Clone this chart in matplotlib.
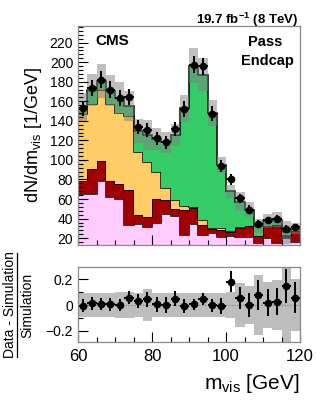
import numpy as np
import matplotlib
matplotlib.use('Agg')
import matplotlib.pyplot as plt
from matplotlib.ticker import MultipleLocator

plt.rcParams['font.family'] = ['Liberation Sans', 'DejaVu Sans']
plt.rcParams['mathtext.default'] = 'regular'

# bins of m_vis, 2.5 GeV wide
bin_edges = [60.0, 62.5, 65.0, 67.5, 70.0, 72.5, 75.0, 77.5, 80.0, 82.5, 85.0, 87.5,
             90.0, 92.5, 95.0, 97.5, 100.0, 102.5, 105.0, 107.5, 110.0, 112.5, 115.0, 117.5, 120.0]

# observed events per GeV
data = [152.7, 173.4, 182, 172, 163, 164, 134, 131, 122, 118, 132, 152,
        197.5, 195.8, 147.5, 94, 80.3, 60.6, 49.3, 34.8, 38.2, 40, 29.6, 31.4]
data_err = [7.8, 8.3, 8.5, 8.3, 8.1, 8.1, 7.3, 7.2, 7.0, 6.9, 7.3, 7.8,
            8.9, 8.9, 7.7, 6.1, 5.7, 4.9, 4.4, 3.7, 3.9, 4.0, 3.4, 3.5]

# simulated processes (stacked, bottom to top)
pink = [65.5, 65, 78, 62, 59.6, 33, 34.5, 31, 35, 45, 43, 23.4,
        34.5, 23.4, 25, 21.6, 22.4, 21.6, 21.6, 15.5, 20, 15, 20.6, 16.5]
darkred = [12.5, 25.6, 21, 16, 15.4, 36, 9.5, 11, 25, 14, 7, 25.1,
           16.5, 9.6, 4, 6.4, 3.6, 8.4, 10.4, 6.5, 11, 18, 2, 10.5]
orange = [69, 66.4, 72.6, 79, 73, 76, 64, 55.6, 27.5, 12.7, 9, 4.9,
          1, 5.2, 1.3, 2, 1.5, 1, 0.5, 0.5, 1, 0.5, 0.5, 0.5]
green = [6.5, 14.2, 9.4, 14, 15, 10, 22, 28, 33.9, 46.3, 66.7, 99.6,
         144.5, 148.8, 117.7, 64.8, 40.5, 26.4, 16.8, 9.8, 5.5, 5.5, 2.7, 2.2]

# relative uncertainty of the simulation
sim_unc = [0.095, 0.095, 0.095, 0.095, 0.1, 0.1, 0.095, 0.125, 0.09, 0.09, 0.09, 0.09,
           0.09, 0.09, 0.09, 0.09, 0.1, 0.17, 0.15, 0.23, 0.18, 0.19, 0.45, 0.2]

edges = np.array(bin_edges)
centers = 0.5 * (edges[1:] + edges[:-1])
layers = [np.array(pink), np.array(darkred), np.array(orange), np.array(green)]
colors = ['#ffccff', '#a00000', '#ffcc66', '#33cc66']

fig = plt.figure(figsize=(3.16, 4.0), dpi=100)
ax = fig.add_axes([0.247, 0.3875, 0.7025, 0.5475])
rax = fig.add_axes([0.247, 0.145, 0.7025, 0.188])

# stack
bottom = np.zeros(len(centers))
for vals, c in zip(layers, colors):
    top = bottom + vals
    ax.stairs(top, edges, baseline=bottom, fill=True, color=c, lw=0)
    ax.stairs(top, edges, baseline=None, color='black', lw=1.1)
    bottom = top
total = bottom
unc = total * np.array(sim_unc)
ax.stairs(total + unc, edges, baseline=total - unc, fill=True, color='#808080', alpha=0.5, lw=0)

ax.errorbar(centers, data, yerr=data_err, xerr=1.25, fmt='o', color='black',
            ms=4.5, elinewidth=1.4, capsize=0)

ax.set_xlim(60, 120)
ax.set_ylim(13, 237)
ax.yaxis.set_major_locator(MultipleLocator(20))
ax.yaxis.set_minor_locator(MultipleLocator(4))
ax.xaxis.set_major_locator(MultipleLocator(20))
ax.xaxis.set_minor_locator(MultipleLocator(5))
ax.tick_params(which='both', direction='in', labelsize=10, width=0.8)
ax.tick_params(which='major', length=7)
ax.tick_params(which='minor', length=3.5)
ax.tick_params(axis='x', labelbottom=False)
ax.set_ylabel('dN/dm$_{vis}$ [1/GeV]', fontsize=13, labelpad=4)

ax.text(0.08, 0.915, 'CMS', transform=ax.transAxes, fontsize=11, fontweight='bold')
fig.text(248 / 316, 1 - 42 / 400, 'Pass', fontsize=10.5, fontweight='bold', va='center')
fig.text(294 / 316, 1 - 61 / 400, 'Endcap', fontsize=10.5, fontweight='bold', va='center', ha='right')
fig.text(298 / 316, 1 - 20 / 400, '19.7 fb$^{-1}$ (8 TeV)', fontsize=9.5, fontweight='bold',
         va='center', ha='right')

# ratio panel
ratio = np.array(data) / total - 1
ratio_err = np.array(data_err) / total
rax.stairs(np.array(sim_unc), edges, baseline=-np.array(sim_unc), fill=True, color='#bdbdbd', lw=0)
rax.axhline(0, color='#777777', lw=0.8, ls=':')
rax.errorbar(centers, ratio, yerr=ratio_err, xerr=1.25, fmt='o', color='black',
             ms=4.5, elinewidth=1.4, capsize=0)
rax.set_xlim(60, 120)
rax.set_ylim(-0.285, 0.295)
rax.yaxis.set_minor_locator(MultipleLocator(0.1))
rax.xaxis.set_major_locator(MultipleLocator(20))
rax.xaxis.set_minor_locator(MultipleLocator(5))
rax.set_yticks([-0.2, 0, 0.2])
rax.set_yticklabels(['\u22120.2', '0', '0.2'])
rax.tick_params(which='both', direction='in', width=0.8)
rax.tick_params(axis='y', labelsize=10)
rax.tick_params(axis='x', labelsize=12, pad=5)
rax.tick_params(which='major', length=7)
rax.tick_params(which='minor', length=3.5)
rax.set_xlabel('m$_{vis}$ [GeV]', fontsize=15, loc='right', labelpad=6)

fig.text(10 / 316, 1 - 305 / 400, 'Data - Simulation', rotation=90, fontsize=10,
         ha='center', va='center')
fig.text(27 / 316, 1 - 305 / 400, 'Simulation', rotation=90, fontsize=10, ha='center', va='center')
fig.add_artist(plt.Line2D([17 / 316, 17 / 316], [1 - 357 / 400, 1 - 253 / 400], color='black', lw=0.9))

for a in (ax, rax):
    for s in a.spines.values():
        s.set_color('#888888')
        s.set_linewidth(0.9)

fig.savefig('out.png', dpi=100)
